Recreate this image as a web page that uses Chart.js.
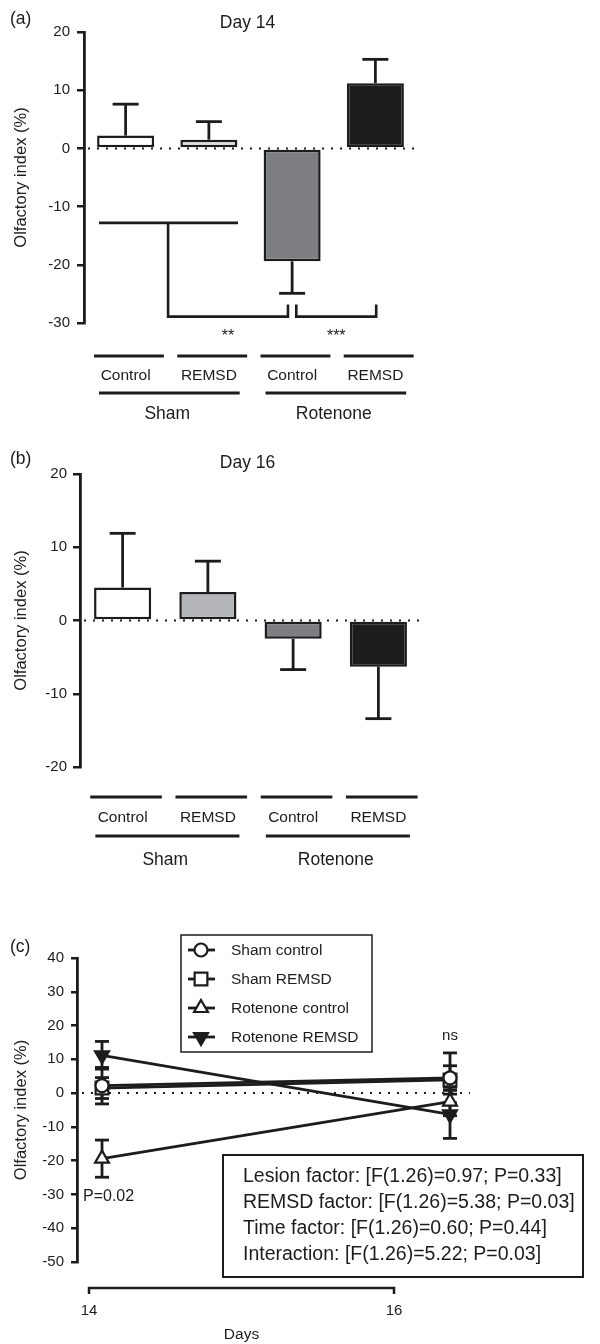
<!DOCTYPE html>
<html>
<head>
<meta charset="utf-8">
<script src="https://cdn.jsdelivr.net/npm/chart.js@4.4.1/dist/chart.umd.min.js"></script>
<style>
  body { margin: 0; background: #fff; }
  canvas { position: absolute; left: 0; }
</style>
</head>
<body>
<canvas id="chart-a" style="top:0px" width="600" height="440"></canvas>
<canvas id="chart-b" style="top:440px" width="600" height="440"></canvas>
<canvas id="chart-c" style="top:880px" width="600" height="464"></canvas>
<script>
const FONT = '"Liberation Sans", Arial, Helvetica, sans-serif';
const INK = '#1c1c1c';

// data
const categories = ['Control', 'REMSD', 'Control', 'REMSD'];
const groups = ['Sham', 'Rotenone'];
const day14Mean = [2.2, 1.5, -19.4, 11.2];
const day14Err = [5.4, 3.1, 5.5, 4.1];
const day16Mean = [4.5, 3.9, -2.5, -6.3];
const day16Err = [7.4, 4.2, 4.2, 7.1];
const days = [14, 16];
const seriesNames = ['Sham control', 'Sham REMSD', 'Rotenone control', 'Rotenone REMSD'];
const statsLines = [
  'Lesion factor: [F(1.26)=0.97; P=0.33]',
  'REMSD factor: [F(1.26)=5.38; P=0.03]',
  'Time factor: [F(1.26)=0.60; P=0.44]',
  'Interaction: [F(1.26)=5.22; P=0.03]',
];

// styles
const barFillsA = ['#ffffff', '#dcdcdc', '#7d7e82', '#1c1c1c'];
const barFillsB = ['#ffffff', '#b5b6b9', '#7d7e82', '#1c1c1c'];
const pointStyles = ['circle', 'rect', 'triangle', 'triangle'];
const pointRotations = [0, 0, 0, 180];
const pointFills = ['#ffffff', '#ffffff', '#ffffff', INK];
const pointRadii = [6.5, 9, 8, 8];

function font(size) {
  return size + 'px ' + FONT;
}

function hline(ctx, x0, x1, y, w) {
  ctx.lineWidth = w;
  ctx.beginPath();
  ctx.moveTo(x0, y);
  ctx.lineTo(x1, y);
  ctx.stroke();
}

function dottedZero(chart, x0, x1) {
  const { ctx, scales } = chart;
  const y0 = scales.y.getPixelForValue(0);
  ctx.save();
  ctx.strokeStyle = INK;
  ctx.setLineDash([2, 7]);
  hline(ctx, x0, x1, y0, 2);
  ctx.restore();
}

function marker(ctx, i, x, y) {
  ctx.save();
  ctx.fillStyle = pointFills[i];
  ctx.strokeStyle = INK;
  ctx.lineWidth = 2.2;
  Chart.helpers.drawPoint(ctx, {
    pointStyle: pointStyles[i],
    rotation: pointRotations[i],
    radius: pointRadii[i],
    borderWidth: 2.2,
  }, x, y);
  ctx.restore();
}

const barDecor = {
  id: 'barDecor',
  beforeDatasetsDraw(chart, args, opts) {
    dottedZero(chart, chart.chartArea.left + 4, chart.chartArea.right);
  },
  afterDatasetsDraw(chart, args, opts) {
    const { ctx, chartArea, scales } = chart;
    const xs = scales.x;
    const ys = scales.y;
    const meta = chart.getDatasetMeta(0);
    const w = xs.getPixelForValue(1) - xs.getPixelForValue(0);
    ctx.save();
    ctx.strokeStyle = INK;
    ctx.fillStyle = INK;

    // error bars, away from zero
    opts.means.forEach((m, i) => {
      const x = meta.data[i].x;
      const sign = m < 0 ? -1 : 1;
      const yA = ys.getPixelForValue(m);
      const yB = ys.getPixelForValue(m + sign * opts.errs[i]);
      ctx.lineWidth = 2.8;
      ctx.beginPath();
      ctx.moveTo(x, yA);
      ctx.lineTo(x, yB);
      ctx.stroke();
      hline(ctx, x - 13, x + 13, yB, 2.8);
    });

    // significance brackets
    (opts.brackets || []).forEach(path => {
      ctx.lineWidth = 2.6;
      ctx.beginPath();
      path.forEach((p, k) => {
        const px = xs.getPixelForValue(0) + p[0] * w;
        const py = ys.getPixelForValue(p[1]);
        if (k === 0) ctx.moveTo(px, py); else ctx.lineTo(px, py);
      });
      ctx.stroke();
    });
    ctx.font = font(16);
    ctx.textAlign = 'center';
    ctx.textBaseline = 'middle';
    (opts.stars || []).forEach(s => {
      ctx.fillText(s[0], xs.getPixelForValue(0) + s[1] * w, ys.getPixelForValue(s[2]));
    });

    // category and group underlines
    categories.forEach((c, i) => {
      const x = xs.getPixelForValue(i);
      hline(ctx, x - 0.38 * w, x + 0.46 * w, chartArea.bottom + opts.catLineY, 3);
    });
    groups.forEach((g, k) => {
      const xa = xs.getPixelForValue(2 * k) - 0.32 * w;
      const xb = xs.getPixelForValue(2 * k + 1) + 0.37 * w;
      hline(ctx, xa, xb, chartArea.bottom + opts.groupLineY, 3);
    });

    // panel letter and title
    ctx.font = font(17.5);
    ctx.textAlign = 'left';
    ctx.fillText(opts.letter, 10, 19);
    ctx.textAlign = 'center';
    ctx.fillText(opts.title, (chartArea.left + chartArea.right) / 2 - 3, 23);
    ctx.restore();
  },
};

function barChart(id, means, errs, fills, deco, layout) {
  return new Chart(document.getElementById(id), {
    type: 'bar',
    data: {
      labels: categories,
      datasets: [{
        data: means,
        backgroundColor: fills,
        borderColor: INK,
        borderWidth: 2.5,
        borderSkipped: false,
        barPercentage: layout.barPct,
        categoryPercentage: 1,
      }],
    },
    options: {
      responsive: false,
      animation: false,
      layout: { padding: { top: layout.top, right: layout.right, bottom: 0, left: 0 } },
      plugins: {
        legend: { display: false },
        tooltip: { enabled: false },
        barDecor: Object.assign({ means: means, errs: errs }, deco),
      },
      scales: {
        x: {
          offset: true,
          weight: 0,
          grid: { display: false, drawTicks: false },
          border: { display: false },
          ticks: { color: INK, font: { family: FONT, size: 15.5 }, padding: layout.catPad },
          afterFit: s => { s.height = 62; },
        },
        x2: {
          type: 'category',
          labels: groups,
          position: 'bottom',
          offset: true,
          weight: 1,
          grid: { display: false, drawTicks: false },
          border: { display: false },
          ticks: { color: INK, font: { family: FONT, size: 17.5 }, padding: layout.groupPad },
          afterFit: s => { s.height = layout.x2Height; },
        },
        y: {
          min: layout.yMin,
          max: layout.yMax,
          ticks: { stepSize: 10, color: INK, font: { family: FONT, size: 15 }, padding: layout.tickPad },
          grid: { drawOnChartArea: false, color: INK, lineWidth: 2.5, tickLength: 7 },
          border: { color: INK, width: 2.8 },
          title: {
            display: true,
            text: 'Olfactory index (%)',
            color: INK,
            font: { family: FONT, size: 16.5 },
            padding: { top: 12, bottom: 0 },
          },
          afterFit: s => { s.width = layout.axisX; },
        },
      },
    },
    plugins: [barDecor],
  });
}

barChart('chart-a', day14Mean, day14Err, barFillsA, {
  letter: '(a)',
  title: 'Day 14',
  catLineY: 33,
  groupLineY: 70,
  brackets: [
    [[-0.32, -12.8], [1.35, -12.8]],
    [[0.51, -12.8], [0.51, -28.9], [1.95, -28.9], [1.95, -26.8]],
    [[2.05, -26.8], [2.05, -28.9], [3.01, -28.9], [3.01, -26.8]],
  ],
  stars: [['**', 1.23, -32.3], ['***', 2.53, -32.3]],
}, { top: 32, right: 183, axisX: 84, barPct: 0.685, yMin: -30, yMax: 20, catPad: 43, groupPad: 19, x2Height: 55, tickPad: 7 });

barChart('chart-b', day16Mean, day16Err, barFillsB, {
  letter: '(b)',
  title: 'Day 16',
  catLineY: 30,
  groupLineY: 69,
}, { top: 34, right: 179, axisX: 80, barPct: 0.67, yMin: -20, yMax: 20, catPad: 41, groupPad: 21, x2Height: 51, tickPad: 6 });

// panel (c): time course
const lineDecor = {
  id: 'lineDecor',
  beforeDatasetsDraw(chart) {
    const { ctx, scales } = chart;
    dottedZero(chart, chart.chartArea.left + 5, chart.chartArea.right);
    ctx.save();
    ctx.strokeStyle = INK;
    const means = [day14Mean, day16Mean];
    const errs = [day14Err, day16Err];
    seriesNames.forEach((n, i) => {
      days.forEach((d, j) => {
        const x = scales.x.getPixelForValue(d);
        const yA = scales.y.getPixelForValue(means[j][i] - errs[j][i]);
        const yB = scales.y.getPixelForValue(means[j][i] + errs[j][i]);
        ctx.lineWidth = 2.8;
        ctx.beginPath();
        ctx.moveTo(x, yA);
        ctx.lineTo(x, yB);
        ctx.stroke();
        hline(ctx, x - 7, x + 7, yA, 2.8);
        hline(ctx, x - 7, x + 7, yB, 2.8);
      });
    });
    ctx.restore();
  },
  afterDatasetsDraw(chart) {
    const { ctx, chartArea, scales } = chart;
    const xd = scales.xd;
    ctx.save();
    ctx.strokeStyle = INK;
    ctx.fillStyle = INK;

    // bracket-style x axis from day 14 to day 16
    const xa = xd.getPixelForValue(days[0]);
    const xb = xd.getPixelForValue(days[1]);
    const ya = chartArea.bottom + 26;
    ctx.lineWidth = 2.5;
    ctx.beginPath();
    ctx.moveTo(xa, ya + 6);
    ctx.lineTo(xa, ya);
    ctx.lineTo(xb, ya);
    ctx.lineTo(xb, ya + 6);
    ctx.stroke();
    ctx.font = font(15.5);
    ctx.textAlign = 'center';
    ctx.textBaseline = 'middle';
    ctx.fillText('Days', (xa + xb) / 2, chartArea.bottom + 73);

    // annotations
    ctx.font = font(15);
    ctx.fillText('ns', scales.x.getPixelForValue(days[1]), scales.y.getPixelForValue(17));
    ctx.font = font(16);
    ctx.textAlign = 'left';
    ctx.fillText('P=0.02', chartArea.left + 6, scales.y.getPixelForValue(-30.6));

    // legend
    ctx.lineWidth = 1.5;
    ctx.strokeRect(181, 55, 191, 117);
    seriesNames.forEach((n, i) => {
      const y = 70 + i * 29;
      hline(ctx, 188, 215, y, 2.8);
      marker(ctx, i, 201, y);
      ctx.fillStyle = INK;
      ctx.font = font(15.5);
      ctx.textAlign = 'left';
      ctx.fillText(n, 231, y + 1);
    });

    // statistics box
    ctx.fillStyle = '#ffffff';
    ctx.fillRect(223, 275, 360, 122);
    ctx.lineWidth = 2;
    ctx.strokeRect(223, 275, 360, 122);
    ctx.fillStyle = INK;
    ctx.font = font(19.5);
    statsLines.forEach((t, k) => {
      ctx.fillText(t, 243, 297 + k * 26);
    });

    ctx.font = font(17.5);
    ctx.fillText('(c)', 10, 67);
    ctx.restore();
  },
};

new Chart(document.getElementById('chart-c'), {
  type: 'line',
  data: {
    datasets: seriesNames.map((n, i) => ({
      label: n,
      data: [
        { x: days[0], y: day14Mean[i] },
        { x: days[1], y: day16Mean[i] },
      ],
      borderColor: INK,
      borderWidth: 2.8,
      fill: false,
      tension: 0,
      pointStyle: pointStyles[i],
      pointRotation: pointRotations[i],
      pointRadius: pointRadii[i],
      pointBackgroundColor: pointFills[i],
      pointBorderColor: INK,
      pointBorderWidth: 2.2,
    })),
  },
  options: {
    responsive: false,
    animation: false,
    layout: { padding: { top: 78, right: 130, bottom: 0, left: 0 } },
    plugins: { legend: { display: false }, tooltip: { enabled: false } },
    scales: {
      x: { type: 'linear', min: 13.8563, max: 16.1149, display: false },
      xd: {
        type: 'linear',
        position: 'bottom',
        min: 13.9213,
        max: 16.4983,
        afterBuildTicks: s => { s.ticks = days.map(d => ({ value: d })); },
        grid: { display: false, drawTicks: false },
        border: { display: false },
        ticks: { color: INK, font: { family: FONT, size: 15 }, padding: 40 },
        afterFit: s => { s.height = 82; },
      },
      y: {
        min: -50,
        max: 40,
        ticks: { stepSize: 10, color: INK, font: { family: FONT, size: 15 }, padding: 7 },
        grid: { drawOnChartArea: false, color: INK, lineWidth: 2.5, tickLength: 6 },
        border: { color: INK, width: 2.8 },
        title: {
          display: true,
          text: 'Olfactory index (%)',
          color: INK,
          font: { family: FONT, size: 16.5 },
          padding: { top: 12, bottom: 0 },
        },
        afterFit: s => { s.width = 77; },
      },
    },
  },
  plugins: [lineDecor],
});
</script>
</body>
</html>
